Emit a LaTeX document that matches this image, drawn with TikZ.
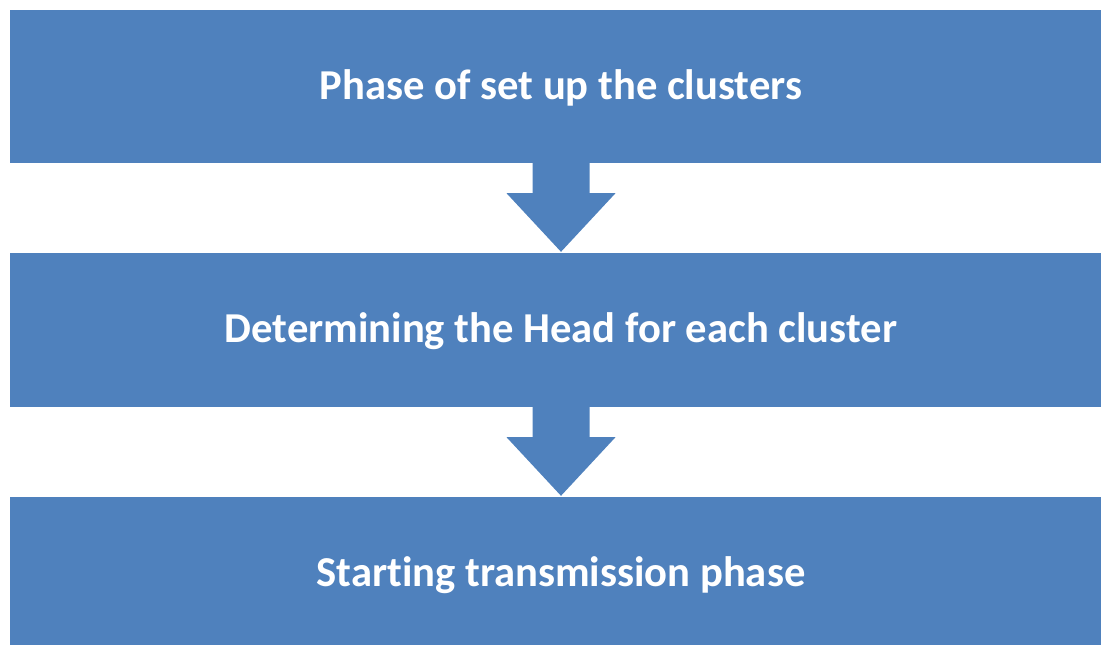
\documentclass[tikz,border=0pt]{standalone}
\usepackage{fontspec}
\setmainfont[Ligatures={NoCommon,NoContextual}]{Carlito}
\usetikzlibrary{calc}
\definecolor{boxblue}{HTML}{4F81BD}
\tikzset{
  stagebox/.style={fill=boxblue, draw=none, minimum width=1102pt, inner sep=0pt,
    text height=32pt, text depth=7pt,
    text=white, font=\fontsize{42.6}{51}\selectfont\bfseries},
  blockarrow/.style={fill=boxblue, draw=none}
}
\begin{document}
\begin{tikzpicture}[x=1pt,y=-1pt]
\useasboundingbox (0,0) rectangle (1101,645);
\begin{scope}
\clip (0,0) rectangle (1101,645);
\node[stagebox, minimum height=153pt] (b1) at (561,86.5) {Phase of set up the clusters};
\node[stagebox, minimum height=154pt] (b2) at (561,330) {Determining the Head for each cluster};
\node[stagebox, minimum height=153pt] (b3) at (561,573.5) {Starting transmission phase};
\foreach \a/\b in {b1/b2, b2/b3}{
  \fill[blockarrow] ($(\a.south)+(-28.5,-1)$) -- ($(\a.south)+(-28.5,30)$) -- ($(\a.south)+(-54.5,30)$)
    -- ($(\b.north)+(0,-1)$) -- ($(\a.south)+(54.5,30)$) -- ($(\a.south)+(28.5,30)$)
    -- ($(\a.south)+(28.5,-1)$) -- cycle;
}
\end{scope}
\end{tikzpicture}
\end{document}
